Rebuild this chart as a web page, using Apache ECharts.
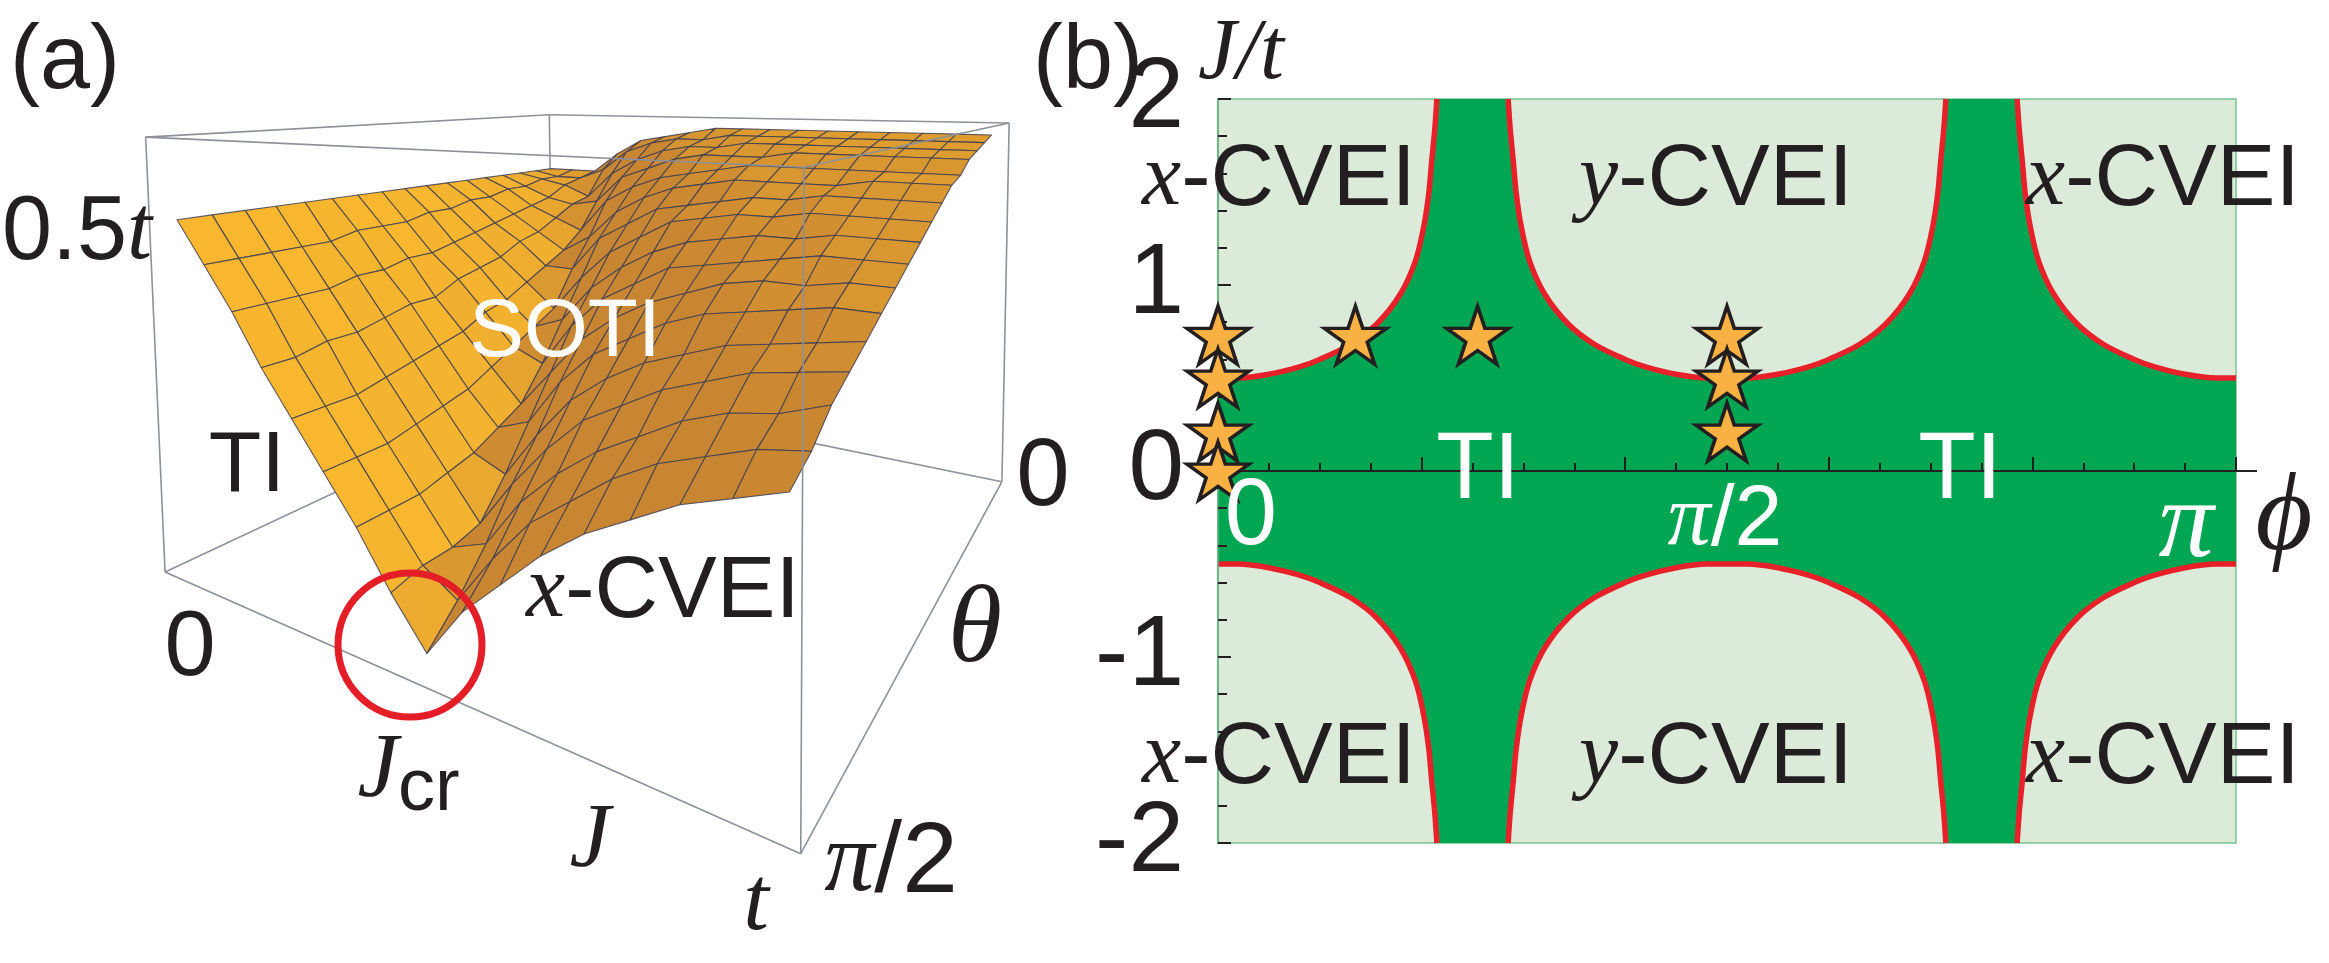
<!DOCTYPE html>
<html>
<head>
<meta charset="utf-8">
<script src="https://cdn.jsdelivr.net/npm/echarts@6/dist/echarts.min.js"></script>
<style>
  html, body { margin: 0; padding: 0; background: #fff; }
  #chart { width: 2329px; height: 963px; }
</style>
</head>
<body>
<div id="chart"></div>
<script>
// ---- panel (a): gap surface ----
// J in units of t, theta in units of pi, gap in units of t
var jGrid = [0, 0.0625, 0.125, 0.1875, 0.25, 0.3125, 0.375, 0.4375, 0.5,
  0.5625, 0.625, 0.6875, 0.75, 0.8125, 0.875, 0.9375, 1];
var thetaGrid = [0, 0.03125, 0.0625, 0.09375, 0.125, 0.15625, 0.1875, 0.21875, 0.25,
  0.28125, 0.3125, 0.34375, 0.375, 0.40625, 0.4375, 0.46875, 0.5];
// one row per theta value, one column per J value
var gapRows = [
  [0.50, 0.50, 0.50, 0.54, 0.57, 0.58, 0.59, 0.60, 0.60, 0.60, 0.60, 0.60, 0.60, 0.60, 0.60, 0.60, 0.60],
  [0.50, 0.49, 0.49, 0.51, 0.55, 0.57, 0.58, 0.58, 0.59, 0.59, 0.59, 0.59, 0.59, 0.59, 0.59, 0.59, 0.59],
  [0.50, 0.49, 0.48, 0.46, 0.51, 0.54, 0.56, 0.57, 0.57, 0.58, 0.58, 0.58, 0.58, 0.58, 0.58, 0.58, 0.58],
  [0.50, 0.48, 0.46, 0.45, 0.46, 0.51, 0.53, 0.55, 0.56, 0.56, 0.56, 0.57, 0.57, 0.57, 0.57, 0.57, 0.57],
  [0.50, 0.48, 0.45, 0.43, 0.41, 0.47, 0.50, 0.52, 0.53, 0.54, 0.55, 0.55, 0.55, 0.55, 0.55, 0.55, 0.55],
  [0.50, 0.47, 0.44, 0.41, 0.38, 0.41, 0.46, 0.49, 0.51, 0.52, 0.53, 0.53, 0.53, 0.53, 0.54, 0.54, 0.54],
  [0.50, 0.47, 0.43, 0.40, 0.36, 0.36, 0.42, 0.45, 0.48, 0.49, 0.50, 0.51, 0.51, 0.52, 0.52, 0.52, 0.52],
  [0.50, 0.46, 0.42, 0.38, 0.34, 0.30, 0.36, 0.41, 0.44, 0.47, 0.48, 0.49, 0.49, 0.50, 0.50, 0.50, 0.50],
  [0.50, 0.46, 0.41, 0.37, 0.32, 0.28, 0.30, 0.36, 0.40, 0.43, 0.45, 0.46, 0.47, 0.47, 0.48, 0.48, 0.48],
  [0.50, 0.45, 0.40, 0.36, 0.31, 0.26, 0.24, 0.31, 0.36, 0.39, 0.42, 0.43, 0.44, 0.45, 0.46, 0.46, 0.46],
  [0.50, 0.45, 0.40, 0.34, 0.29, 0.24, 0.19, 0.25, 0.31, 0.35, 0.38, 0.40, 0.42, 0.43, 0.43, 0.44, 0.44],
  [0.50, 0.45, 0.39, 0.34, 0.28, 0.22, 0.17, 0.19, 0.26, 0.31, 0.34, 0.37, 0.39, 0.40, 0.41, 0.42, 0.42],
  [0.50, 0.44, 0.39, 0.33, 0.27, 0.21, 0.15, 0.13, 0.20, 0.26, 0.30, 0.33, 0.35, 0.37, 0.38, 0.39, 0.40],
  [0.50, 0.44, 0.38, 0.32, 0.26, 0.20, 0.14, 0.08, 0.15, 0.21, 0.26, 0.29, 0.32, 0.34, 0.36, 0.37, 0.38],
  [0.50, 0.44, 0.38, 0.32, 0.25, 0.19, 0.13, 0.07, 0.09, 0.16, 0.21, 0.25, 0.28, 0.31, 0.33, 0.34, 0.36],
  [0.50, 0.44, 0.38, 0.31, 0.25, 0.19, 0.13, 0.07, 0.04, 0.11, 0.17, 0.21, 0.25, 0.28, 0.30, 0.32, 0.33],
  [0.50, 0.44, 0.38, 0.31, 0.25, 0.19, 0.13, 0.06, 0.00, 0.07, 0.12, 0.17, 0.21, 0.24, 0.27, 0.29, 0.31]
];

// ---- panel (b): phase diagram ----
// one quarter of the upper x-CVEI boundary (phi in units of pi); the other
// branches are its mirror images, as in the figure
var edgePhi = [0, 0.02, 0.05, 0.08, 0.10, 0.13, 0.156, 0.179, 0.194, 0.202, 0.207, 0.210, 0.213, 0.215];
var edgeJ   = [0.50, 0.50, 0.52, 0.56, 0.60, 0.68, 0.79, 0.95, 1.13, 1.31, 1.49, 1.67, 1.84, 2.00];
var starPhi = [0, 0, 0, 0, 0.135, 0.255, 0.5, 0.5, 0.5];
var starJ   = [0.73, 0.50, 0.21, 0, 0.73, 0.73, 0.73, 0.50, 0.21];

(function () {
  var ink = '#231f20';
  var sans = 'Liberation Sans, Arial, sans-serif';
  var serif = 'Liberation Serif, Times New Roman, serif';
  var lightGreen = '#dcebd9';
  var darkGreen = '#00a651';
  var red = '#e8202a';
  var boxColor = '#8d9199';
  var meshColor = 'rgba(62, 62, 84, 0.85)';

  // ---------- 3D box camera (box corners as seen in the picture) ----------
  // box coords: X along J, Y from theta=pi/2 to theta=0, Z up
  var boxCorners = [[0, 0, 0], [1, 0, 0], [1, 1, 0], [0, 1, 0],
                    [0, 0, 1], [1, 0, 1], [1, 1, 1], [0, 1, 1]];
  var boxView = [[0.031, 0.379], [0.744, 0.007], [0.983, 0.500], [0.468, 0.617],
                 [0.005, 0.954], [0.760, 0.908], [0.985, 0.970], [0.466, 0.980]];
  var padJ = 0.025, padT = 0.03, zMin = -0.02, zMax = 0.62;

  function fitCamera(p3, p2) {
    var n = 11, M = [], r = [], a, b, c, q;
    for (a = 0; a < n; a++) { M.push(new Array(n).fill(0)); r.push(0); }
    function addRow(row, val) {
      for (a = 0; a < n; a++) {
        r[a] += row[a] * val;
        for (b = 0; b < n; b++) M[a][b] += row[a] * row[b];
      }
    }
    p3.forEach(function (P, k) {
      var X = P[0], Y = P[1], Z = P[2], u = p2[k][0], v = p2[k][1];
      addRow([X, Y, Z, 1, 0, 0, 0, 0, -u * X, -u * Y, -u * Z], u);
      addRow([0, 0, 0, 0, X, Y, Z, 1, -v * X, -v * Y, -v * Z], v);
    });
    for (c = 0; c < n; c++) {
      var piv = c;
      for (q = c + 1; q < n; q++) if (Math.abs(M[q][c]) > Math.abs(M[piv][c])) piv = q;
      var tmp = M[c]; M[c] = M[piv]; M[piv] = tmp;
      var tr = r[c]; r[c] = r[piv]; r[piv] = tr;
      for (q = c + 1; q < n; q++) {
        var f = M[q][c] / M[c][c];
        for (b = c; b < n; b++) M[q][b] -= f * M[c][b];
        r[q] -= f * r[c];
      }
    }
    var x = new Array(n);
    for (c = n - 1; c >= 0; c--) {
      var s = r[c];
      for (b = c + 1; b < n; b++) s -= M[c][b] * x[b];
      x[c] = s / M[c][c];
    }
    return x;
  }
  var cam = fitCamera(boxCorners, boxView);

  function project(P) {
    var X = P[0], Y = P[1], Z = P[2];
    var w = cam[8] * X + cam[9] * Y + cam[10] * Z + 1;
    return [(cam[0] * X + cam[1] * Y + cam[2] * Z + cam[3]) / w,
            (cam[4] * X + cam[5] * Y + cam[6] * Z + cam[7]) / w, w];
  }
  function boxPoint(j, th, g) {
    return [(j + padJ) / (1 + 2 * padJ),
            (1 - th / 0.5 + padT) / (1 + 2 * padT),
            (g - zMin) / (zMax - zMin)];
  }

  var light = [0.755, 0.352, 0.553];
  var dark = [194, 127, 50], bright = [249, 184, 47];
  function shade(n) {
    var t = Math.max(0, n[0] * light[0] + n[1] * light[1] + n[2] * light[2]);
    t = Math.min(1, 0.12 + 0.92 * t);
    return 'rgb(' + dark.map(function (d, i) { return Math.round(d + (bright[i] - d) * t); }).join(',') + ')';
  }

  var cells = [];
  for (var k = 0; k < thetaGrid.length - 1; k++) {
    for (var i = 0; i < jGrid.length - 1; i++) {
      var q = [[i, k], [i + 1, k], [i + 1, k + 1], [i, k + 1]].map(function (p) {
        return boxPoint(jGrid[p[0]], thetaGrid[p[1]], gapRows[p[1]][p[0]]);
      });
      var pr = q.map(project);
      var d1 = [q[2][0] - q[0][0], q[2][1] - q[0][1], q[2][2] - q[0][2]];
      var d2 = [q[3][0] - q[1][0], q[3][1] - q[1][1], q[3][2] - q[1][2]];
      var nrm = [d1[1] * d2[2] - d1[2] * d2[1], d1[2] * d2[0] - d1[0] * d2[2], d1[0] * d2[1] - d1[1] * d2[0]];
      if (nrm[2] < 0) nrm = nrm.map(function (v) { return -v; });
      var len = Math.hypot(nrm[0], nrm[1], nrm[2]) || 1;
      nrm = nrm.map(function (v) { return v / len; });
      cells.push({
        view: pr.map(function (p) { return [p[0], p[1]]; }),
        depth: (pr[0][2] + pr[1][2] + pr[2][2] + pr[3][2]) / 4,
        color: shade(nrm)
      });
    }
  }
  cells.sort(function (a, b) { return b.depth - a.depth; });

  var boxProj = boxCorners.map(function (c) { return project(c); });
  var backEdges = [[3, 0], [3, 2], [3, 7], [4, 7], [7, 6]];
  var frontEdges = [[0, 1], [1, 2], [1, 5], [4, 5], [5, 6], [0, 4], [2, 6]];

  function edgeSeries(list, z) {
    return {
      type: 'custom', xAxisIndex: 0, yAxisIndex: 0, z: z, silent: true, clip: false,
      data: list.map(function (e, n) { return [0, 0, n]; }),
      renderItem: function (params, api) {
        var e = list[api.value(2)];
        var a = api.coord([boxProj[e[0]][0], boxProj[e[0]][1]]);
        var b = api.coord([boxProj[e[1]][0], boxProj[e[1]][1]]);
        return { type: 'line', shape: { x1: a[0], y1: a[1], x2: b[0], y2: b[1] },
                 style: { stroke: boxColor, lineWidth: 1.6 } };
      }
    };
  }

  // ---------- panel (b) boundary branches ----------
  function branch(fn) {
    return edgePhi.map(function (p, n) { return fn(p, edgeJ[n]); });
  }
  var seg1 = branch(function (p, j) { return [p, j]; });
  var seg2 = branch(function (p, j) { return [0.5 - p, j]; }).reverse()
    .concat(branch(function (p, j) { return [0.5 + p, j]; }).slice(1));
  var seg3 = branch(function (p, j) { return [1 - p, j]; }).reverse();
  var upper = [seg1, seg2, seg3];
  var lower = upper.map(function (s) { return s.map(function (d) { return [d[0], -d[1]]; }); });
  var outline = seg1.concat(seg2, seg3,
    lower[2].slice().reverse(), lower[1].slice().reverse(), lower[0].slice().reverse());

  var starPath = 'path://M50,0 L61.23,34.55 L97.55,34.55 L68.16,55.9 L79.39,90.45 L50,69.1 ' +
    'L20.61,90.45 L31.84,55.9 L2.45,34.55 L38.77,34.55 Z';

  var lineSeries = upper.concat(lower).map(function (s) {
    return {
      type: 'line', xAxisIndex: 1, yAxisIndex: 1, data: s, showSymbol: false, smooth: 0.3,
      lineStyle: { color: red, width: 5.5 }, z: 4, silent: true
    };
  });

  function txt(x, y, text, size, opts) {
    opts = opts || {};
    return {
      type: 'text', x: x, y: y, z: 100, silent: true,
      style: {
        text: text, fontSize: size, fontFamily: opts.family || sans,
        fontStyle: opts.italic ? 'italic' : 'normal',
        fill: opts.fill || ink, align: opts.align || 'center', verticalAlign: 'middle',
        rich: {
          i: { fontFamily: serif, fontStyle: 'italic', fontSize: size, fill: opts.fill || ink }
        }
      }
    };
  }
  var cvei = 88;

  var chart = echarts.init(document.getElementById('chart'), null, { renderer: 'canvas' });
  chart.setOption({
    animation: false,
    backgroundColor: '#ffffff',
    grid: [
      { left: 140, top: 100, width: 880, height: 760, show: false },
      { left: 1218, top: 99, width: 1018, height: 744, show: true,
        backgroundColor: lightGreen, borderColor: '#79c391', borderWidth: 1.5 }
    ],
    xAxis: [
      { gridIndex: 0, type: 'value', min: 0, max: 1, show: false },
      { gridIndex: 1, type: 'value', min: 0, max: 1, interval: 0.2, z: 6,
        axisLine: { onZero: true, lineStyle: { color: ink, width: 2 } },
        axisTick: { inside: true, length: 14, lineStyle: { color: ink, width: 2 } },
        minorTick: { show: true, splitNumber: 4, length: 8, lineStyle: { color: ink, width: 2 } },
        axisLabel: { show: false }, splitLine: { show: false } }
    ],
    yAxis: [
      { gridIndex: 0, type: 'value', min: 0, max: 1, show: false },
      { gridIndex: 1, type: 'value', min: -2, max: 2, interval: 1, z: 6,
        axisLine: { show: true, onZero: false, lineStyle: { color: '#5caf7c', width: 1.5 } },
        axisTick: { inside: true, length: 13, lineStyle: { color: ink, width: 2 } },
        minorTick: { show: true, splitNumber: 5, length: 9, lineStyle: { color: ink, width: 2 } },
        axisLabel: { fontSize: 100, fontFamily: sans, color: ink, margin: 34 },
        splitLine: { show: false } }
    ],
    series: [
      edgeSeries(backEdges, 1),
      {
        type: 'custom', xAxisIndex: 0, yAxisIndex: 0, z: 2, silent: true, clip: false,
        data: cells.map(function (c, n) { return [0, 0, n]; }),
        renderItem: function (params, api) {
          var c = cells[api.value(2)];
          return {
            type: 'polygon',
            shape: { points: c.view.map(function (p) { return api.coord(p); }) },
            style: { fill: c.color, stroke: meshColor, lineWidth: 1.1, lineJoin: 'round' }
          };
        }
      },
      edgeSeries(frontEdges, 3),
      {
        type: 'custom', xAxisIndex: 1, yAxisIndex: 1, z: 2, silent: true,
        data: [[0, 0]],
        renderItem: function (params, api) {
          return { type: 'polygon',
                   shape: { points: outline.map(function (p) { return api.coord(p); }) },
                   style: { fill: darkGreen } };
        }
      }
    ].concat(lineSeries, [{
      type: 'scatter', xAxisIndex: 1, yAxisIndex: 1, z: 8, silent: true,
      symbol: starPath, symbolSize: [62, 58],
      itemStyle: { color: '#f9b143', opacity: 1, borderColor: ink, borderWidth: 3.5 },
      data: starPhi.map(function (p, n) { return [p, starJ[n]]; })
    }]),
    graphic: [
      // panel (a)
      txt(10, 63, '(a)', 90, { align: 'left' }),
      txt(2, 234, '0.5{i|t}', 90, { align: 'left' }),
      txt(247, 467, 'TI', 86),
      txt(565, 333, 'SOTI', 82, { fill: '#ffffff' }),
      txt(663, 593, '{i|x}-CVEI', cvei),
      txt(190, 650, '0', 92),
      txt(378, 772, 'J', 92, { family: serif, italic: true }),
      txt(398, 790, 'cr', 74, { align: 'left' }),
      txt(590, 842, 'J', 92, { family: serif, italic: true }),
      txt(756, 905, 't', 92, { family: serif, italic: true }),
      txt(891, 864, '{i|\u03c0}/2', 100),
      txt(975, 632, '\u03b8', 110, { family: serif, italic: true }),
      txt(1043, 479, '0', 96),
      { type: 'circle', z: 110, silent: true, shape: { cx: 410, cy: 645, r: 72 },
        style: { fill: 'none', stroke: '#e31e26', lineWidth: 7 } },
      // panel (b)
      txt(1033, 63, '(b)', 90, { align: 'left' }),
      txt(1198, 55, 'J/t', 86, { family: serif, italic: true, align: 'left' }),
      txt(1279, 181, '{i|x}-CVEI', cvei),
      txt(1716, 181, '{i|y}-CVEI', cvei),
      txt(2163, 181, '{i|x}-CVEI', cvei),
      txt(1279, 759, '{i|x}-CVEI', cvei),
      txt(1716, 759, '{i|y}-CVEI', cvei),
      txt(2163, 759, '{i|x}-CVEI', cvei),
      txt(1478, 472, 'TI', 94, { fill: '#ffffff' }),
      txt(1960, 472, 'TI', 94, { fill: '#ffffff' }),
      txt(1251, 518, '0', 94, { fill: '#ffffff' }),
      txt(1725, 521, '{i|\u03c0}/2', 86, { fill: '#ffffff' }),
      txt(2186, 527, '\u03c0', 110, { family: serif, italic: true, fill: '#ffffff' }),
      txt(2284, 520, '\u03d5', 110, { family: serif, italic: true }),
      { type: 'line', z: 100, silent: true, shape: { x1: 2236, y1: 471, x2: 2257, y2: 471 },
        style: { stroke: ink, lineWidth: 2 } }
    ]
  });
})();
</script>
</body>
</html>
